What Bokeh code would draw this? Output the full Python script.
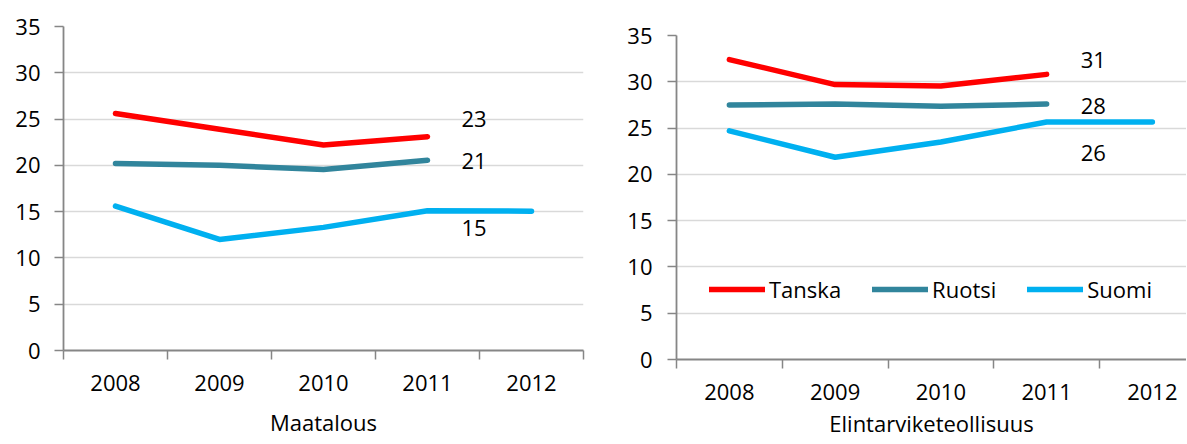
from bokeh.plotting import figure
from bokeh.layouts import row, column
from bokeh.models import FixedTicker, Legend, LegendItem, Range1d, ColumnDataSource, Spacer
from bokeh.embed import file_html
from bokeh.resources import INLINE
from bokeh.core.properties import value

# ---------------- data ----------------
years = ["2008", "2009", "2010", "2011", "2012"]
series_names = ["Tanska", "Ruotsi", "Suomi"]

maatalous_tanska = [25.6, 23.9, 22.2, 23.1]
maatalous_ruotsi = [20.2, 20.0, 19.55, 20.55]
maatalous_suomi = [15.6, 12.0, 13.3, 15.1, 15.05]
maatalous_labels = ["23", "21", "15"]

elintarvike_tanska = [32.4, 29.7, 29.55, 30.8]
elintarvike_ruotsi = [27.5, 27.6, 27.35, 27.6]
elintarvike_suomi = [24.7, 21.85, 23.5, 25.65, 25.65]
elintarvike_labels = ["31", "28", "26"]

y_ticks = [0, 5, 10, 15, 20, 25, 30, 35]
titles = ["Maatalous", "Elintarviketeollisuus"]

# ---------------- style ----------------
COLORS = ["#FF0000", "#31859C", "#00B0F0"]
FONT = "Open Sans"
FS = "22px"
AXIS_COLOR = "#868686"
GRID_COLOR = "#D9D9D9"
TEXT_COLOR = "#000000"
LABEL_INDEX = 3  # data labels sit next to the 2011 value


def make_panel(series, labels, title, label_dy, frame_w, cat_w, borders, title_standoff,
               ylabel_standoff, legend_loc=None):
    n = len(years)
    x_end = min(n, frame_w / cat_w)
    bl, br, bt, bb = borders
    p = figure(frame_width=frame_w, frame_height=324,
               x_range=Range1d(0, x_end), y_range=Range1d(y_ticks[0], y_ticks[-1]),
               output_backend="svg", toolbar_location=None,
               min_border_left=bl, min_border_right=br, min_border_top=bt, min_border_bottom=bb)
    p.outline_line_color = None
    p.background_fill_color = "white"
    p.border_fill_color = "white"

    centers = [i + 0.5 for i in range(n)]
    bounds = list(range(n + 1))

    # x axis: labels at category centres, tick marks at boundaries
    xa = p.xaxis[0]
    xa.ticker = FixedTicker(ticks=centers, minor_ticks=bounds)
    xa.major_label_overrides = {c: y for c, y in zip(centers, years)}
    xa.major_tick_out = 0
    xa.major_tick_in = 0
    xa.minor_tick_out = 9
    xa.minor_tick_in = 0
    xa.minor_tick_line_color = AXIS_COLOR
    xa.minor_tick_line_width = 1.5
    xa.axis_line_color = AXIS_COLOR
    xa.axis_line_width = 1.8
    xa.major_label_text_font = FONT
    xa.major_label_text_font_size = FS
    xa.major_label_text_color = TEXT_COLOR
    xa.major_label_standoff = 15
    xa.axis_label = title
    xa.axis_label_text_font = FONT
    xa.axis_label_text_font_size = FS
    xa.axis_label_text_font_style = "normal"
    xa.axis_label_text_color = TEXT_COLOR
    xa.axis_label_standoff = title_standoff

    ya = p.yaxis[0]
    ya.ticker = FixedTicker(ticks=y_ticks)
    ya.major_tick_out = 9
    ya.major_tick_in = 0
    ya.minor_tick_out = 0
    ya.minor_tick_in = 0
    ya.major_tick_line_color = AXIS_COLOR
    ya.major_tick_line_width = 1.5
    ya.axis_line_color = AXIS_COLOR
    ya.axis_line_width = 1.8
    ya.major_label_text_font = FONT
    ya.major_label_text_font_size = FS
    ya.major_label_text_color = TEXT_COLOR
    ya.major_label_standoff = ylabel_standoff

    p.xgrid.grid_line_color = None
    p.ygrid.ticker = FixedTicker(ticks=y_ticks)
    p.ygrid.grid_line_color = GRID_COLOR
    p.ygrid.grid_line_width = 1.4

    renderers = []
    for vals, col in zip(series, COLORS):
        xs = [i + 0.5 for i in range(len(vals))]
        r = p.line(xs, vals, line_color=col, line_width=5.5, line_cap="round", line_join="round")
        renderers.append(r)

    src = ColumnDataSource(dict(
        x=[LABEL_INDEX + 0.5] * len(series),
        y=[s[LABEL_INDEX] for s in series],
        t=labels,
        dy=label_dy,
    ))
    p.text(x="x", y="y", text="t", source=src, x_offset=34, y_offset="dy",
           text_font=value(FONT), text_font_size=value(FS), text_color=TEXT_COLOR,
           text_align="left", text_baseline="middle")

    if legend_loc is not None:
        leg = Legend(items=[LegendItem(label=nm, renderers=[r]) for nm, r in zip(series_names, renderers)],
                     orientation="horizontal", location=legend_loc,
                     glyph_width=56, glyph_height=24, label_standoff=4, spacing=31,
                     padding=0, margin=0, label_text_font=FONT, label_text_font_size=FS,
                     label_text_color=TEXT_COLOR, background_fill_alpha=0, border_line_alpha=0)
        p.add_layout(leg)
    return p


p1 = make_panel([maatalous_tanska, maatalous_ruotsi, maatalous_suomi], maatalous_labels,
                titles[0], [-18, 1, 17], frame_w=520, cat_w=104,
                borders=(63, 17, 26, 94), title_standoff=13, ylabel_standoff=14)
p2 = make_panel([elintarvike_tanska, elintarvike_ruotsi, elintarvike_suomi], elintarvike_labels,
                titles[1], [-14, 2, 31], frame_w=510, cat_w=105.75,
                borders=(76, 0, 26, 85), title_standoff=5, ylabel_standoff=15, legend_loc=(33, 55))

layout = row(p1, column(Spacer(height=9), p2))
open("out.html", "w").write(file_html(layout, INLINE))
